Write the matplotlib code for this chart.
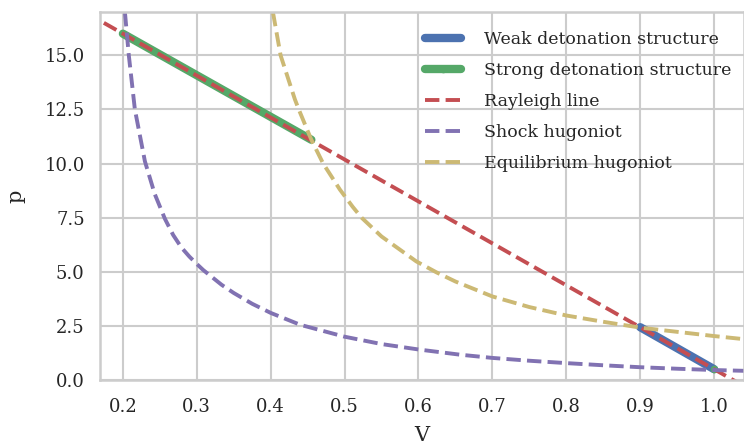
import numpy as np
import matplotlib
matplotlib.use("Agg")
import matplotlib.pyplot as plt
import seaborn as sns

# specific volume / pressure states
weak_V = [1.0, 0.9]
weak_p = [0.5, 2.44]

# initial state, then the jump onto the Rayleigh line and the reaction zone
strong_V = [1.0, np.nan, 0.2, 0.455]
strong_p = [0.5, np.nan, 16.0, 11.1]

rayleigh_V = [0.15, 1.05]
rayleigh_p = [16.97, -0.47]

shock_V = [0.2027, 0.208, 0.2162, 0.2298, 0.243, 0.2568, 0.268, 0.2792, 0.290,
           0.300, 0.3087, 0.3335, 0.35, 0.375, 0.40, 0.44, 0.50, 0.55, 0.60,
           0.656, 0.70, 0.75, 0.80, 0.85, 0.90, 0.95, 1.00, 1.045]
shock_p = [17.0, 15.0, 12.5, 10.1, 8.6, 7.45, 6.7, 6.12, 5.7,
           5.36, 5.08, 4.40, 4.02, 3.52, 3.10, 2.55, 2.0, 1.66, 1.41,
           1.17, 1.02, 0.89, 0.78, 0.68, 0.59, 0.52, 0.46, 0.42]

equil_V = [0.403, 0.4134, 0.4328, 0.438, 0.455, 0.471, 0.4936, 0.511, 0.523,
           0.55, 0.597, 0.6245, 0.65, 0.70, 0.75, 0.80, 0.85, 0.90, 1.00, 1.045]
equil_p = [17.0, 15.0, 12.96, 12.5, 11.1, 10.0, 8.8, 8.0, 7.5,
           6.63, 5.48, 4.97, 4.55, 3.86, 3.37, 2.98, 2.69, 2.42, 2.03, 1.87]

sns.set_style("whitegrid")
plt.rcParams["font.family"] = ["DejaVu Serif"]
plt.rcParams["axes.edgecolor"] = "#cccccc"
plt.rcParams["axes.linewidth"] = 1.8
plt.rcParams["grid.color"] = "#cccccc"
plt.rcParams["grid.linewidth"] = 1.5
text_color = "#262626"

fig, ax = plt.subplots(figsize=(7.44, 4.46), dpi=100)
fig.subplots_adjust(left=0.1344, right=0.9995, top=0.973, bottom=0.148)

ax.plot(weak_V, weak_p, color="#4C72B0", lw=6, solid_capstyle="round",
        label="Weak detonation structure")
ax.plot(strong_V, strong_p, color="#55A868", lw=6, solid_capstyle="round",
        marker="o", markevery=[0], ms=5.5, mew=0,
        label="Strong detonation structure")
ax.plot(rayleigh_V, rayleigh_p, "--", color="#C44E52", lw=2.8, label="Rayleigh line")
ax.plot(shock_V, shock_p, "--", color="#8172B2", lw=2.8, label="Shock hugoniot")
ax.plot(equil_V, equil_p, "--", color="#CCB974", lw=2.8, label="Equilibrium hugoniot")

ax.set_xlim(0.169, 1.040)
ax.set_ylim(0, 17.0)
ax.set_xticks(np.arange(0.2, 1.01, 0.1))
ax.set_yticks(np.arange(0, 15.1, 2.5))
ax.tick_params(axis="x", labelsize=13, pad=13, length=0, labelcolor=text_color)
ax.tick_params(axis="y", labelsize=13, pad=11, length=0, labelcolor=text_color)
ax.set_xlabel("V", fontsize=15, color=text_color, labelpad=7)
ax.set_ylabel("p", fontsize=15, color=text_color, labelpad=14)

leg = ax.legend(loc="upper right", bbox_to_anchor=(0.992, 0.967),
                borderaxespad=0, frameon=False, fontsize=12.5,
                labelspacing=0.8, handlelength=2.05, handletextpad=1.35)
for t in leg.get_texts():
    t.set_color(text_color)

fig.savefig("out.png", dpi=100)
